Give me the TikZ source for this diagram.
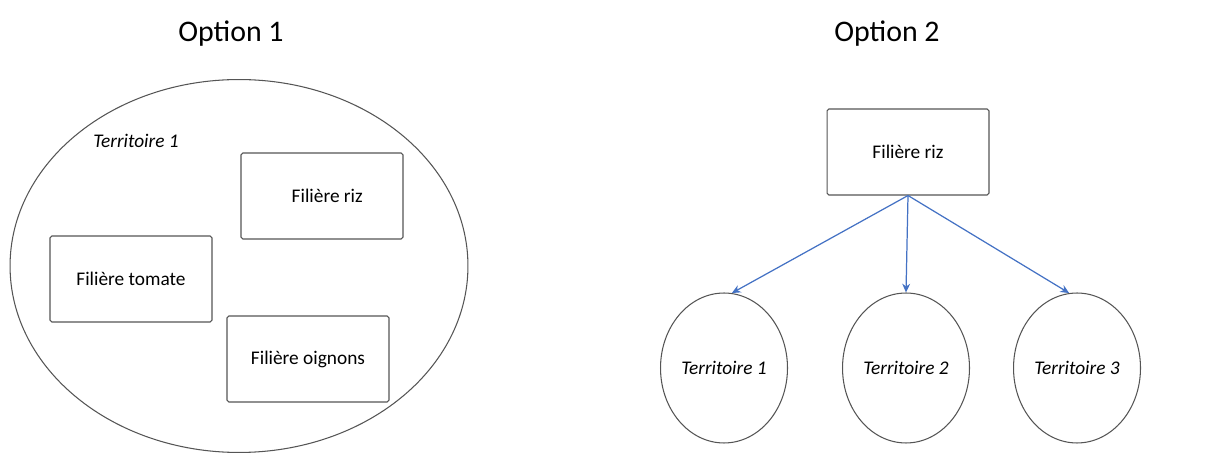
\documentclass[tikz,border=0pt]{standalone}
\usepackage{fontspec}
\setmainfont{Carlito}
\usetikzlibrary{shapes.geometric, arrows.meta}
\definecolor{linegray}{RGB}{85, 85, 85}
\definecolor{arrowblue}{RGB}{68, 114, 196}
\tikzset{
    x=0.02cm, y=-0.02cm,
    title/.style={font=\fontsize{17}{20}\selectfont},
    filbox/.style={draw=linegray, line width=.6pt, rounded corners=1pt,
        minimum width=3.24cm, minimum height=1.72cm,
        font=\fontsize{11}{13}\selectfont},
    terrnode/.style={draw=linegray, line width=.6pt, ellipse, inner sep=0pt,
        minimum width=2.54cm, minimum height=3cm,
        font=\itshape\fontsize{11}{13}\selectfont},
    link/.style={draw=arrowblue, line width=.7pt,
        -{Stealth[length=5pt, width=4.5pt]}},
}

\begin{document}
\begin{tikzpicture}
    \useasboundingbox (0, 0) rectangle (1223, 455);
    % option 1
    \node[title] (opt1) at (231, 34) {Option 1};
    \node[draw=linegray, line width=.6pt, ellipse, minimum width=9.16cm,
        minimum height=7.46cm] (terr) at (239, 266) {};
    \node[font=\itshape\fontsize{11}{13}\selectfont] (terrlbl) at (136, 141)
        {Territoire 1};
    \node[filbox] (riz) at (322, 196) {\hspace{6pt}Filière riz};
    \node[filbox] (tomate) at (131, 279) {Filière tomate};
    \node[filbox] (oignons) at (308, 359) {Filière oignons};
    % option 2
    \node[title] (opt2) at (887, 34) {Option 2};
    \node[filbox] (riz2) at (908, 152) {Filière riz};
    \node[terrnode] (t1) at (724, 368) {Territoire 1};
    \node[terrnode] (t2) at (906, 368) {Territoire 2};
    \node[terrnode] (t3) at (1077, 368) {Territoire 3};
    \draw[link] (riz2.south) -- (t1.84);
    \draw[link] (riz2.south) -- (t2.north);
    \draw[link] (riz2.south) -- (t3.96);
\end{tikzpicture}
\end{document}
